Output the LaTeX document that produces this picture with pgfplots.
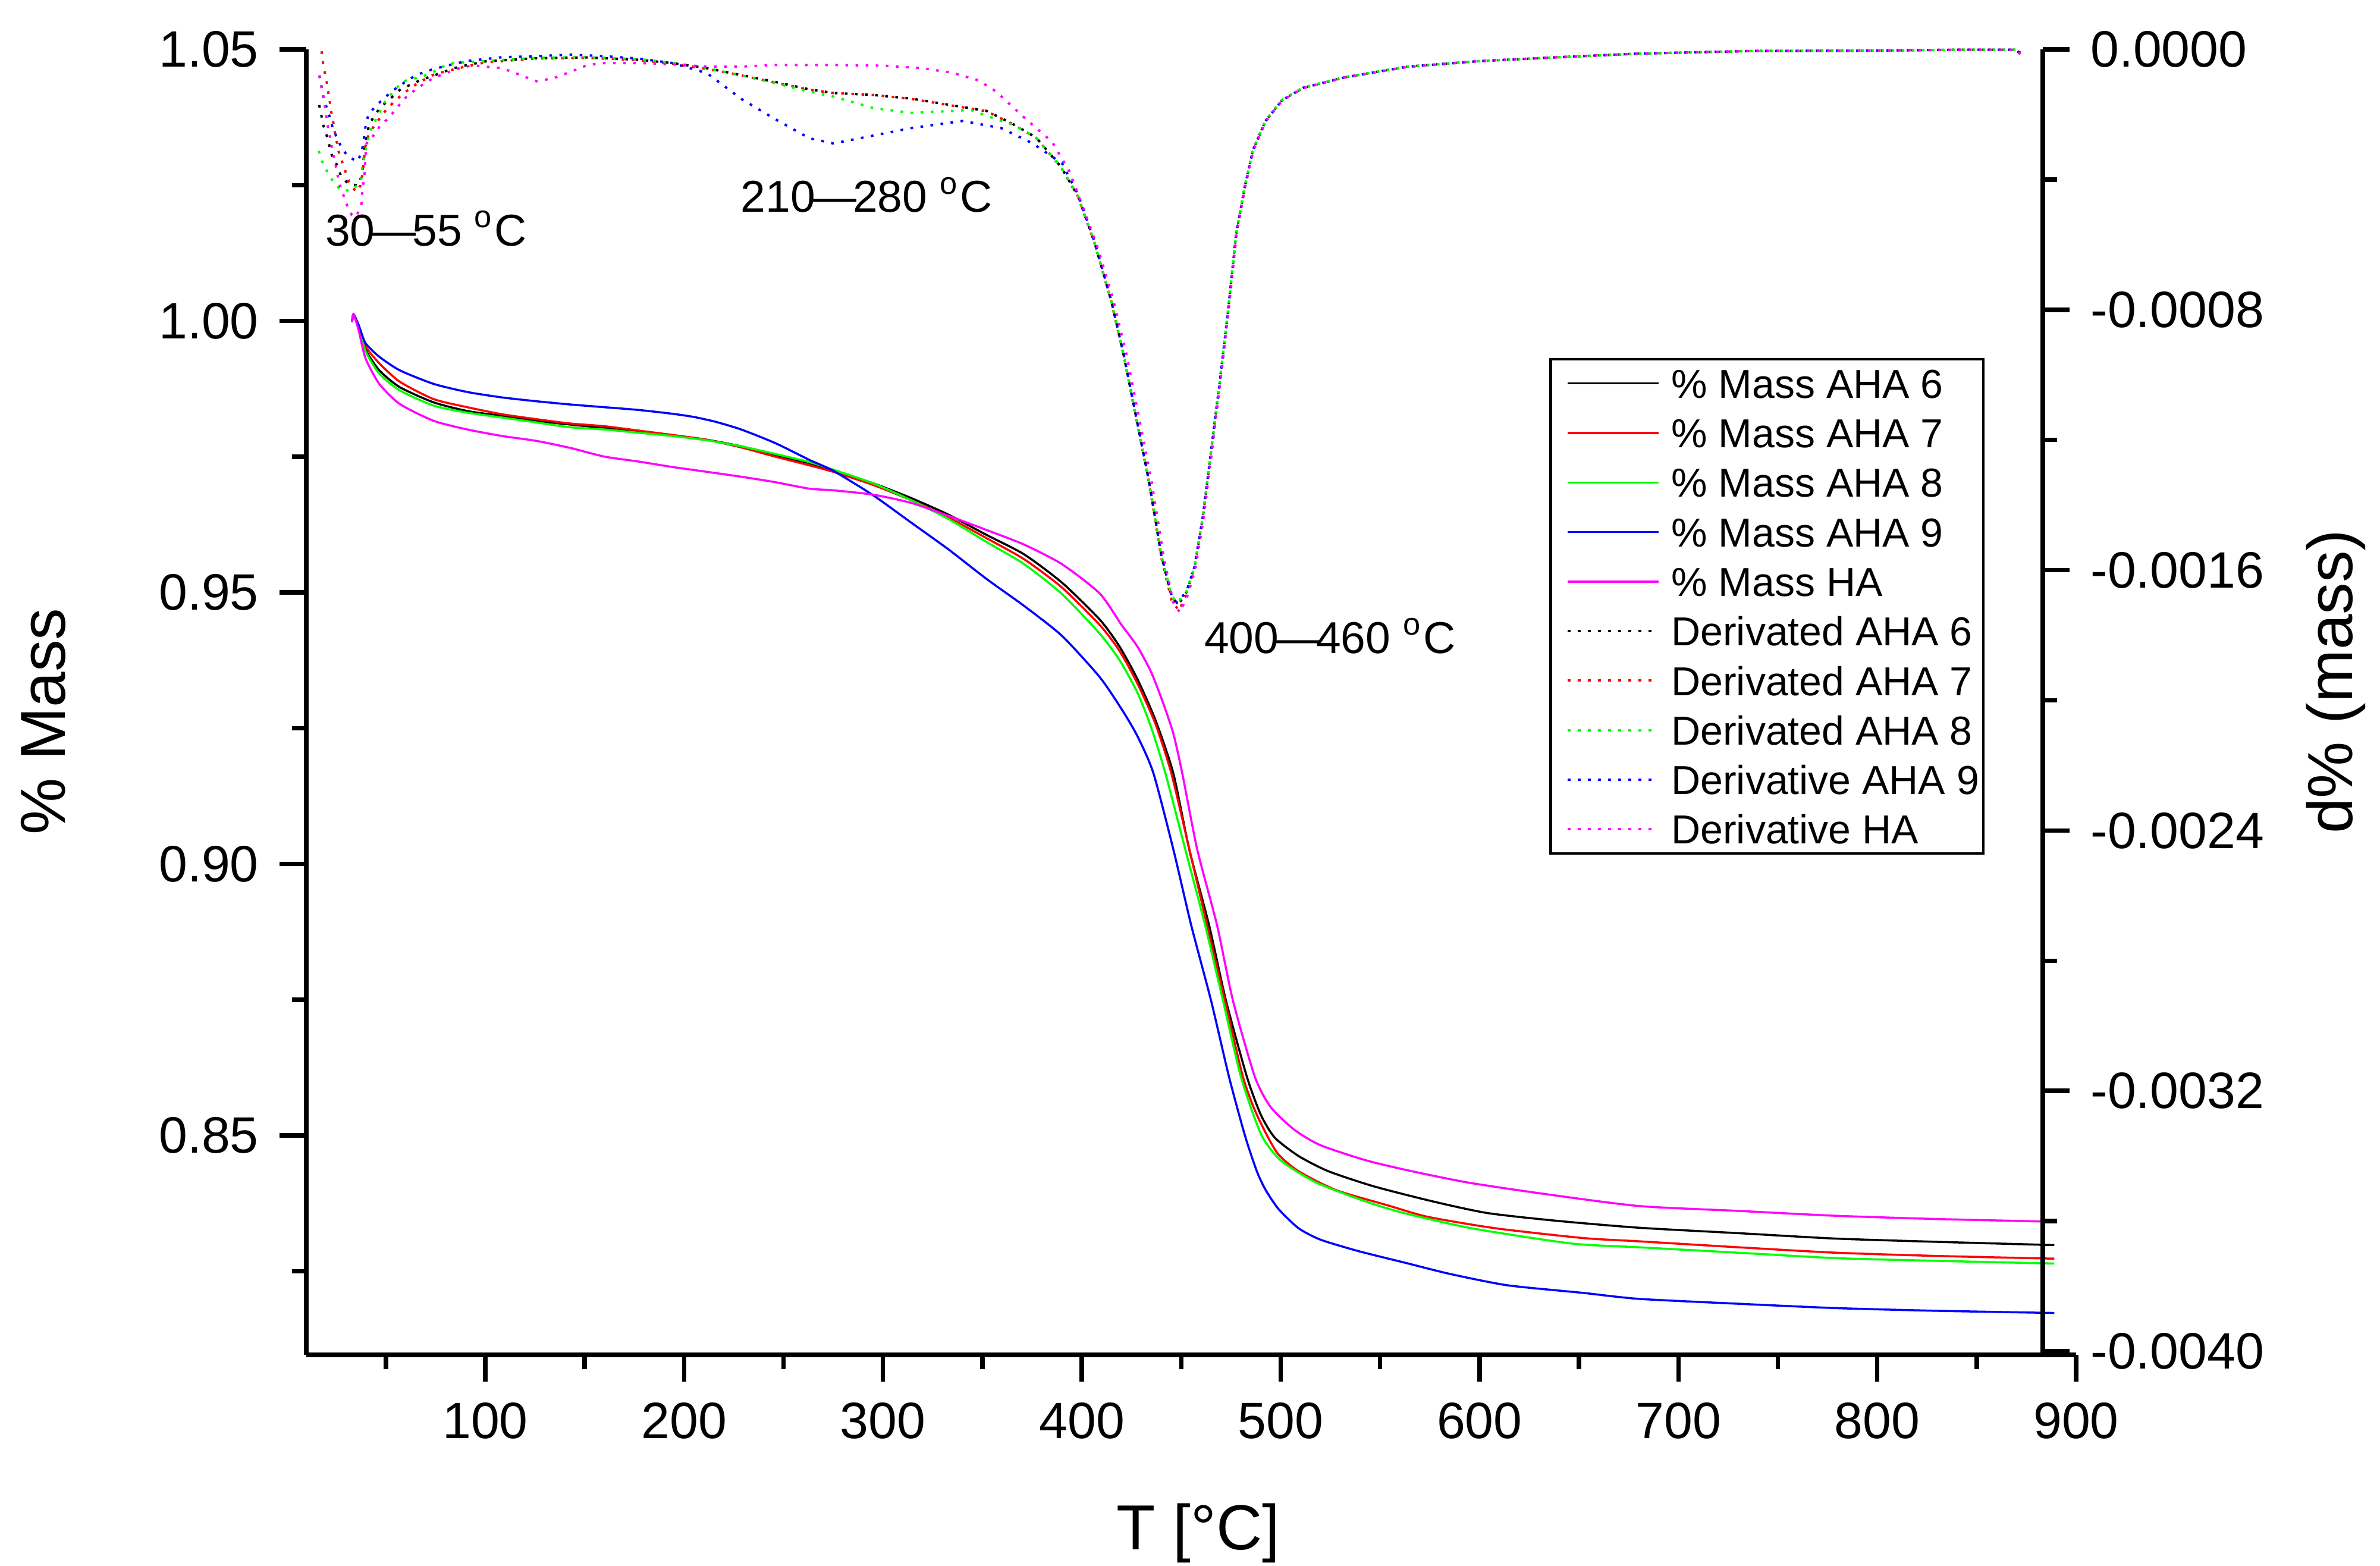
\documentclass[border=0pt]{standalone}
\usepackage{fontspec}
\setmainfont{Liberation Sans}
\usepackage{pgfplots}
\usepackage{pgfplotstable}
\pgfplotsset{compat=1.18}
\definecolor{oRed}{RGB}{255,0,0}
\definecolor{oGreen}{RGB}{0,255,0}
\definecolor{oBlue}{RGB}{0,0,255}
\definecolor{oMag}{RGB}{255,0,255}

% ---------- % Mass curves ----------
\pgfplotstableread{
T m
33.0 0.9998
33.8 1.0012
36.4 0.9988
39.8 0.9947
46.7 0.9909
57.0 0.9878
74.0 0.9850
91.0 0.9834
108.5 0.9825
125.7 0.9816
142.8 0.9809
160.0 0.9803
177.0 0.9797
194.0 0.9789
211.5 0.9781
228.7 0.9769
245.8 0.9753
263.0 0.9738
275.0 0.9724
295.0 0.9701
314.0 0.9674
333.0 0.9643
352.0 0.9606
371.0 0.9570
390.0 0.9518
409.0 0.9450
419.0 0.9400
428.0 0.9340
437.0 0.9265
446.0 0.9167
454.0 0.9027
464.0 0.8887
472.5 0.8748
483.0 0.8608
490.0 0.8538
497.0 0.8496
509.0 0.8462
524.0 0.8434
547.0 0.8406
577.0 0.8378
604.0 0.8357
638.0 0.8343
680.0 0.8330
730.0 0.8320
779.0 0.8310
830.0 0.8304
889.0 0.8298
}\massA
\pgfplotstableread{
T m
33.0 0.9998
33.8 1.0012
36.4 0.9990
39.8 0.9953
46.7 0.9922
57.0 0.9888
74.0 0.9856
91.0 0.9841
108.5 0.9828
125.7 0.9819
142.8 0.9811
160.0 0.9806
177.0 0.9798
194.0 0.9790
211.5 0.9781
228.7 0.9767
245.8 0.9750
263.0 0.9734
275.0 0.9722
295.0 0.9698
314.0 0.9670
333.0 0.9638
352.0 0.9600
371.0 0.9561
390.0 0.9509
409.0 0.9440
419.0 0.9392
428.0 0.9332
437.0 0.9258
445.0 0.9167
454.0 0.9028
463.0 0.8887
472.0 0.8748
481.0 0.8608
488.0 0.8538
498.0 0.8469
509.0 0.8434
528.0 0.8399
554.0 0.8371
574.0 0.8350
608.0 0.8329
652.0 0.8311
680.0 0.8305
730.0 0.8294
779.0 0.8284
830.0 0.8278
889.0 0.8273
}\massB
\pgfplotstableread{
T m
33.0 0.9998
33.8 1.0012
36.4 0.9986
39.8 0.9944
46.7 0.9903
57.0 0.9872
74.0 0.9844
91.0 0.9831
108.5 0.9822
125.7 0.9813
142.8 0.9804
160.0 0.9800
177.0 0.9794
194.0 0.9788
211.5 0.9780
228.7 0.9769
245.8 0.9755
263.0 0.9740
275.0 0.9726
295.0 0.9701
314.0 0.9670
333.0 0.9635
352.0 0.9593
371.0 0.9552
390.0 0.9497
409.0 0.9424
419.0 0.9375
428.0 0.9315
435.0 0.9250
442.0 0.9167
452.0 0.9027
462.0 0.8887
471.0 0.8748
480.0 0.8608
490.0 0.8503
500.0 0.8454
518.0 0.8413
543.0 0.8378
562.0 0.8357
596.0 0.8329
646.0 0.8301
680.0 0.8294
730.0 0.8284
779.0 0.8274
830.0 0.8269
889.0 0.8264
}\massC
\pgfplotstableread{
T m
33.0 0.9998
33.8 1.0012
36.4 0.9992
39.8 0.9959
46.7 0.9934
57.0 0.9909
74.0 0.9884
91.0 0.9869
108.5 0.9859
125.7 0.9852
142.8 0.9846
160.0 0.9841
177.0 0.9836
194.0 0.9829
205.0 0.9823
216.0 0.9814
228.7 0.9800
245.8 0.9775
263.0 0.9744
275.0 0.9724
295.0 0.9679
314.0 0.9629
333.0 0.9579
352.0 0.9525
371.0 0.9475
390.0 0.9420
409.0 0.9344
420.0 0.9285
428.0 0.9235
436.0 0.9167
446.0 0.9027
455.0 0.8887
465.0 0.8748
474.0 0.8608
482.0 0.8500
488.0 0.8434
492.5 0.8399
499.0 0.8364
509.0 0.8329
520.0 0.8308
539.0 0.8287
562.0 0.8266
585.0 0.8245
614.0 0.8224
652.0 0.8210
680.0 0.8199
730.0 0.8190
779.0 0.8182
830.0 0.8177
889.0 0.8173
}\massD
\pgfplotstableread{
T m
33.0 0.9998
33.8 1.0012
36.4 0.9982
39.8 0.9931
46.7 0.9884
57.0 0.9847
74.0 0.9816
91.0 0.9800
108.5 0.9788
125.7 0.9779
142.8 0.9766
160.0 0.9750
177.0 0.9741
194.0 0.9731
211.5 0.9722
228.7 0.9713
245.8 0.9703
263.0 0.9691
275.0 0.9688
295.0 0.9680
314.0 0.9665
333.0 0.9641
352.0 0.9615
371.0 0.9588
390.0 0.9552
409.0 0.9498
420.0 0.9440
428.0 0.9400
435.0 0.9352
441.0 0.9295
446.0 0.9240
450.5 0.9167
458.0 0.9027
468.0 0.8887
476.0 0.8748
487.0 0.8608
495.0 0.8552
507.0 0.8510
520.0 0.8482
543.0 0.8454
566.0 0.8434
594.5 0.8413
633.0 0.8392
680.0 0.8370
730.0 0.8361
779.0 0.8352
830.0 0.8346
889.0 0.8341
}\massE

% ---------- derivative curves ----------
\pgfplotstableread{
T d
16.5 -0.000171
17.5 -0.000200
18.5 -0.000232
20.2 -0.000263
21.5 -0.000293
22.7 -0.000322
25.3 -0.000354
27.3 -0.000386
31.0 -0.000413
36.0 -0.000418
38.0 -0.000387
38.5 -0.000357
39.0 -0.000326
39.5 -0.000296
41.5 -0.000233
44.3 -0.000203
47.5 -0.000177
52.5 -0.000150
57.5 -0.000122
63.0 -0.000107
68.0 -0.000093
78.0 -0.000072
83.0 -0.000060
88.0 -0.000052
100.0 -0.000037
125.7 -0.000027
151.4 -0.000025
177.0 -0.000032
194.0 -0.000042
211.5 -0.000058
228.7 -0.000079
245.8 -0.000100
263.0 -0.000123
275.0 -0.000134
295.0 -0.000140
314.0 -0.000151
333.0 -0.000170
352.0 -0.000189
364.4 -0.000226
377.0 -0.000271
389.5 -0.000361
398.0 -0.000450
406.3 -0.000592
414.7 -0.000771
421.0 -0.000938
427.3 -0.001130
433.6 -0.001322
439.9 -0.001553
445.1 -0.001680
448.3 -0.001707
452.5 -0.001669
456.6 -0.001592
460.8 -0.001438
465.0 -0.001233
469.2 -0.001028
473.4 -0.000810
477.6 -0.000566
481.8 -0.000425
486.0 -0.000310
492.3 -0.000220
500.7 -0.000156
511.2 -0.000118
532.2 -0.000086
563.6 -0.000053
600.0 -0.000036
640.0 -0.000024
680.0 -0.000013
737.0 -0.000005
795.0 -0.000004
842.0 -0.000001
869.0 -0.000001
872.0 -0.000008
}\derA
\pgfplotstableread{
T d
17.7 -0.000006
18.3 -0.000037
19.2 -0.000068
20.2 -0.000098
21.0 -0.000130
21.8 -0.000160
22.5 -0.000190
23.5 -0.000221
24.3 -0.000253
26.3 -0.000314
28.0 -0.000345
29.7 -0.000375
31.5 -0.000407
35.0 -0.000438
37.3 -0.000418
38.3 -0.000381
39.0 -0.000342
39.5 -0.000305
40.5 -0.000274
43.5 -0.000241
46.7 -0.000214
50.5 -0.000183
55.5 -0.000153
60.5 -0.000128
66.0 -0.000104
75.5 -0.000073
80.5 -0.000068
85.5 -0.000059
100.0 -0.000040
125.7 -0.000028
151.4 -0.000026
177.0 -0.000033
194.0 -0.000044
211.5 -0.000060
228.7 -0.000080
245.8 -0.000102
263.0 -0.000124
275.0 -0.000134
295.0 -0.000140
314.0 -0.000152
333.0 -0.000171
352.0 -0.000190
364.4 -0.000227
377.0 -0.000272
389.5 -0.000362
398.0 -0.000452
406.3 -0.000594
414.7 -0.000773
421.0 -0.000940
427.3 -0.001133
433.6 -0.001326
439.9 -0.001560
445.1 -0.001692
448.8 -0.001725
452.5 -0.001676
456.6 -0.001596
460.8 -0.001440
465.0 -0.001235
469.2 -0.001030
473.4 -0.000812
477.6 -0.000568
481.8 -0.000426
486.0 -0.000311
492.3 -0.000221
500.7 -0.000157
511.2 -0.000119
532.2 -0.000086
563.6 -0.000054
600.0 -0.000036
640.0 -0.000024
680.0 -0.000013
737.0 -0.000005
795.0 -0.000004
842.0 -0.000001
869.0 -0.000001
872.0 -0.000010
}\derB
\pgfplotstableread{
T d
16.3 -0.000312
18.0 -0.000345
20.5 -0.000375
23.5 -0.000406
27.5 -0.000433
32.7 -0.000434
37.5 -0.000406
38.0 -0.000372
39.5 -0.000317
40.7 -0.000287
42.0 -0.000253
44.5 -0.000221
49.5 -0.000162
54.5 -0.000124
59.0 -0.000098
69.0 -0.000082
74.0 -0.000069
79.0 -0.000052
84.0 -0.000042
100.0 -0.000036
125.7 -0.000026
151.4 -0.000024
177.0 -0.000030
194.0 -0.000041
211.5 -0.000057
228.7 -0.000080
245.8 -0.000104
263.0 -0.000130
275.0 -0.000145
295.0 -0.000180
314.0 -0.000195
333.0 -0.000190
344.0 -0.000186
359.5 -0.000220
366.0 -0.000233
377.0 -0.000271
389.5 -0.000361
398.0 -0.000450
406.3 -0.000592
414.7 -0.000771
421.0 -0.000938
427.3 -0.001130
433.6 -0.001322
439.9 -0.001553
445.1 -0.001678
448.0 -0.001700
452.5 -0.001667
456.6 -0.001590
460.8 -0.001436
465.0 -0.001232
469.2 -0.001027
473.4 -0.000809
477.6 -0.000565
481.8 -0.000424
486.0 -0.000309
492.3 -0.000219
500.7 -0.000155
511.2 -0.000117
532.2 -0.000085
563.6 -0.000053
600.0 -0.000036
640.0 -0.000024
680.0 -0.000013
737.0 -0.000005
795.0 -0.000004
842.0 -0.000001
869.0 -0.000001
872.0 -0.000006
}\derC
\pgfplotstableread{
T d
16.6 -0.000080
17.5 -0.000110
18.5 -0.000146
21.5 -0.000202
23.0 -0.000235
25.0 -0.000266
27.3 -0.000296
30.5 -0.000326
35.5 -0.000345
37.7 -0.000320
38.7 -0.000287
40.0 -0.000227
41.5 -0.000197
46.0 -0.000168
50.2 -0.000144
55.0 -0.000120
60.0 -0.000099
65.0 -0.000080
70.0 -0.000068
75.0 -0.000059
80.0 -0.000051
90.5 -0.000036
108.5 -0.000024
125.7 -0.000021
143.0 -0.000016
160.0 -0.000021
177.0 -0.000028
194.0 -0.000042
211.5 -0.000073
228.7 -0.000152
246.0 -0.000215
263.0 -0.000273
275.0 -0.000289
295.0 -0.000265
314.0 -0.000242
340.0 -0.000220
359.5 -0.000242
375.0 -0.000288
390.0 -0.000350
398.0 -0.000445
406.3 -0.000590
414.7 -0.000770
421.0 -0.000937
427.3 -0.001129
433.6 -0.001322
439.9 -0.001553
445.1 -0.001678
447.8 -0.001700
452.5 -0.001667
456.6 -0.001590
460.8 -0.001437
465.0 -0.001233
469.2 -0.001028
473.4 -0.000810
477.6 -0.000566
481.8 -0.000425
486.0 -0.000310
492.3 -0.000220
500.7 -0.000156
511.2 -0.000118
532.2 -0.000086
563.6 -0.000053
600.0 -0.000036
640.0 -0.000024
680.0 -0.000013
737.0 -0.000005
795.0 -0.000004
842.0 -0.000001
869.0 -0.000001
872.0 -0.000012
}\derD
\pgfplotstableread{
T d
16.6 -0.000080
17.5 -0.000109
18.5 -0.000141
19.2 -0.000168
20.7 -0.000233
21.7 -0.000262
23.5 -0.000322
24.7 -0.000354
25.7 -0.000385
26.9 -0.000418
28.7 -0.000448
30.5 -0.000479
32.9 -0.000509
35.0 -0.000515
37.7 -0.000479
38.0 -0.000448
38.5 -0.000418
39.2 -0.000387
39.5 -0.000357
39.8 -0.000325
40.3 -0.000290
42.0 -0.000272
44.5 -0.000262
47.0 -0.000235
51.5 -0.000211
55.5 -0.000180
60.0 -0.000148
64.5 -0.000126
69.5 -0.000104
74.5 -0.000086
80.0 -0.000074
84.5 -0.000062
93.5 -0.000049
108.5 -0.000058
117.0 -0.000077
125.7 -0.000098
134.0 -0.000089
143.0 -0.000069
151.4 -0.000048
160.0 -0.000042
177.0 -0.000042
194.0 -0.000046
211.5 -0.000053
228.7 -0.000053
246.0 -0.000048
275.0 -0.000048
300.0 -0.000050
320.0 -0.000058
335.0 -0.000072
348.0 -0.000095
357.0 -0.000130
364.0 -0.000170
372.0 -0.000215
385.0 -0.000284
393.7 -0.000374
400.0 -0.000476
408.4 -0.000617
416.0 -0.000775
422.5 -0.000940
428.8 -0.001133
435.0 -0.001326
441.2 -0.001560
446.0 -0.001700
449.3 -0.001730
453.0 -0.001680
457.0 -0.001598
461.2 -0.001442
465.4 -0.001236
469.5 -0.001030
473.6 -0.000812
477.8 -0.000568
482.0 -0.000426
486.2 -0.000311
492.5 -0.000221
500.7 -0.000157
511.2 -0.000119
532.2 -0.000086
563.6 -0.000054
600.0 -0.000036
640.0 -0.000024
680.0 -0.000013
737.0 -0.000005
795.0 -0.000004
842.0 -0.000001
869.0 -0.000001
872.0 -0.000015
}\derE

\begin{document}
\begin{tikzpicture}
\pgfplotsset{
  massline/.style={line width=0.35pt},
  dotline/.style={line width=0.4pt, dash pattern=on 0.45pt off 1.25pt},
  common/.style={
    at={(51.5pt,35.4pt)}, anchor=south west,
    scale only axis, height=219.5pt, clip=false,
    tick align=outside,
    major tick length=4.5pt, minor tick length=2.4pt,
    axis line style={line width=0.75pt},
    every tick/.append style={line width=0.75pt, black},
    tick label style={font=\fontsize{8.6}{10}\selectfont},
    /pgf/number format/assume math mode=true,
    label style={font=\fontsize{10.7}{12}\selectfont},
    scaled y ticks=false,
  },
}
% ---- left axis: % Mass ----
\begin{axis}[common,
  width=297.6pt,
  xmin=10, xmax=900, ymin=0.80958, ymax=1.05,
  axis x line*=bottom, axis y line*=left,
  xtick={100,200,300,400,500,600,700,800,900},
  minor xtick={50,150,250,350,450,550,650,750,850},
  ytick={0.85,0.90,0.95,1.00,1.05},
  minor ytick={0.825,0.875,0.925,0.975,1.025},
  yticklabel style={/pgf/number format/.cd, fixed, fixed zerofill, precision=2},
  xlabel={T [°C]},
  ylabel={\% Mass},
  xlabel style={at={(axis description cs:0.504,-0.1494)}, anchor=base},
  ylabel style={at={(axis description cs:-0.1364,0.4852)}, anchor=base},
]
\addplot[black, massline, smooth, tension=0.4] table[x=T,y=m]{\massA};
\addplot[oRed, massline, smooth, tension=0.4] table[x=T,y=m]{\massB};
\addplot[oGreen, massline, smooth, tension=0.4] table[x=T,y=m]{\massC};
\addplot[oBlue, massline, smooth, tension=0.4] table[x=T,y=m]{\massD};
\addplot[oMag, massline, smooth, tension=0.4] table[x=T,y=m]{\massE};
\node[anchor=base west, inner sep=0pt, font=\fontsize{7.5}{9}\selectfont] at (axis cs:19.0,1.01385) {30\kern-0.08em—\kern-0.08em55 \textsuperscript{o}C};
\node[anchor=base west, inner sep=0pt, font=\fontsize{7.5}{9}\selectfont] at (axis cs:228.0,1.0200) {210\kern-0.08em—\kern-0.08em280 \textsuperscript{o}C};
\node[anchor=base west, inner sep=0pt, font=\fontsize{7.5}{9}\selectfont] at (axis cs:461.0,0.93882) {400\kern-0.08em—\kern-0.08em460 \textsuperscript{o}C};
\end{axis}
% ---- right axis: derivative ----
\begin{axis}[common,
  width=292pt,
  xmin=10, xmax=883.2, ymin=-0.004011, ymax=0,
  axis x line=none, axis y line*=right,
  ytick={-0.004,-0.0032,-0.0024,-0.0016,-0.0008,0},
  minor ytick={-0.0036,-0.0028,-0.002,-0.0012,-0.0004},
  yticklabel style={/pgf/number format/.cd, fixed, fixed zerofill, precision=4},
  ylabel={d\% (mass)},
  ylabel style={at={(axis description cs:1.1781,0.5157)}, anchor=base},
  legend cell align=left,
  legend image code/.code={
    \path[draw=none, fill=none] (-2.2pt,-2.45pt) rectangle (15.3pt,2.45pt);
    \draw[#1] (0pt,0pt) -- (15.3pt,0pt);
  },
  legend style={at={(axis description cs:0.7158,0.7636)}, anchor=north west,
    draw=black, line width=0.45pt, fill=white,
    inner xsep=0.7pt, inner ysep=1.6pt,
    row sep=3.43pt, column sep=1.9pt,
    font=\fontsize{6.8}{8}\selectfont,
    nodes={inner sep=0pt, text height=4.9pt, text depth=0pt}},
]
\addlegendimage{black, massline}
\addlegendentry{\% Mass AHA 6}
\addlegendimage{oRed, massline}
\addlegendentry{\% Mass AHA 7}
\addlegendimage{oGreen, massline}
\addlegendentry{\% Mass AHA 8}
\addlegendimage{oBlue, massline}
\addlegendentry{\% Mass AHA 9}
\addlegendimage{oMag, massline}
\addlegendentry{\% Mass HA}
\addplot[black, dotline] table[x=T,y=d]{\derA};
\addlegendentry{Derivated AHA 6}
\addplot[oRed, dotline] table[x=T,y=d]{\derB};
\addlegendentry{Derivated AHA 7}
\addplot[oGreen, dotline] table[x=T,y=d]{\derC};
\addlegendentry{Derivated AHA 8}
\addplot[oBlue, dotline] table[x=T,y=d]{\derD};
\addlegendentry{Derivative AHA 9}
\addplot[oMag, dotline] table[x=T,y=d]{\derE};
\addlegendentry{Derivative HA}
\end{axis}
\pgfresetboundingbox
\path[use as bounding box] (0,0) rectangle (400.2pt,263.2pt);
\end{tikzpicture}
\end{document}
